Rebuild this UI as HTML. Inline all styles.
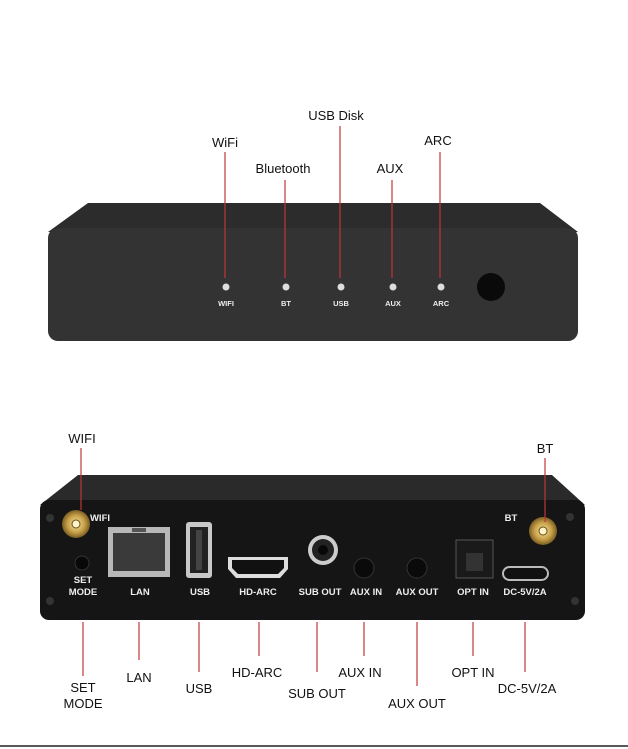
<!DOCTYPE html>
<html><head><meta charset="utf-8"><style>
html,body{margin:0;padding:0;background:#fff}
svg{display:block}
text{font-family:"Liberation Sans",sans-serif}
</style></head><body>
<svg width="628" height="749" viewBox="0 0 628 749" xmlns="http://www.w3.org/2000/svg">
<defs>
<radialGradient id="gold" cx="50%" cy="50%" r="50%"><stop offset="0" stop-color="#f6e3a0"/><stop offset="0.6" stop-color="#c9a24a"/><stop offset="1" stop-color="#7a5d22"/></radialGradient>
</defs>
<!-- TOP DEVICE -->
<path d="M88,203 L540,203 L578,232 L48,232 Z" fill="#2c2c2c"/>
<rect x="48" y="228" width="530" height="113" rx="10" fill="#333"/>
<g stroke="#c0353a" stroke-width="1.2">
<line x1="225" y1="152" x2="225" y2="278"/><line x1="285" y1="180" x2="285" y2="278"/>
<line x1="340" y1="126" x2="340" y2="278"/><line x1="392" y1="180" x2="392" y2="278"/>
<line x1="440" y1="152" x2="440" y2="278"/></g>
<g fill="#ddd"><circle cx="226" cy="287" r="3.5"/><circle cx="286" cy="287" r="3.5"/><circle cx="341" cy="287" r="3.5"/><circle cx="393" cy="287" r="3.5"/><circle cx="441" cy="287" r="3.5"/></g>
<g fill="#eee" font-size="7.5" font-weight="bold" text-anchor="middle">
<text x="226" y="306">WIFI</text><text x="286" y="306">BT</text><text x="341" y="306">USB</text><text x="393" y="306">AUX</text><text x="441" y="306">ARC</text></g>
<circle cx="491" cy="287" r="14" fill="#0a0a0a"/>
<g fill="#111" font-size="13" text-anchor="middle">
<text x="225" y="147">WiFi</text><text x="283" y="173">Bluetooth</text><text x="336" y="120">USB Disk</text><text x="390" y="173">AUX</text><text x="438" y="145">ARC</text></g>

<!-- BOTTOM DEVICE -->
<path d="M78,475 L552,475 L585,505 L40,505 Z" fill="#2a2a2a"/>
<rect x="40" y="500" width="545" height="120" rx="9" fill="#151515"/>
<g fill="#333"><circle cx="50" cy="518" r="4"/><circle cx="50" cy="601" r="4"/><circle cx="575" cy="601" r="4"/><circle cx="570" cy="517" r="4"/></g>
<!-- antennas -->
<circle cx="76" cy="524" r="14" fill="url(#gold)"/><circle cx="76" cy="524" r="4" fill="#fff3c8" stroke="#6b4e1a"/>
<circle cx="543" cy="531" r="14" fill="url(#gold)"/><circle cx="543" cy="531" r="4" fill="#fff3c8" stroke="#6b4e1a"/>
<circle cx="82" cy="563" r="7" fill="#080808" stroke="#333"/>
<!-- LAN -->
<rect x="108" y="527" width="62" height="50" fill="#b8b8b8"/><rect x="113" y="533" width="52" height="38" fill="#3a3a3a"/><rect x="132" y="528" width="14" height="4" fill="#555"/>
<!-- USB -->
<rect x="186" y="522" width="26" height="56" rx="3" fill="#c8c8c8"/><rect x="190" y="527" width="18" height="46" fill="#222"/><rect x="196" y="530" width="6" height="40" fill="#444"/>
<!-- HDMI -->
<path d="M228,557 L288,557 L288,569 L280,578 L236,578 L228,569 Z" fill="#ddd"/><path d="M232,560 L284,560 L284,568 L278,574 L238,574 L232,568 Z" fill="#111"/>
<!-- SUB OUT -->
<circle cx="323" cy="550" r="15" fill="#ccc"/><circle cx="323" cy="550" r="11" fill="#222"/><circle cx="323" cy="550" r="5" fill="#080808"/>
<circle cx="364" cy="568" r="10" fill="#0a0a0a" stroke="#333"/><circle cx="417" cy="568" r="10" fill="#0a0a0a" stroke="#333"/>
<!-- OPT -->
<rect x="456" y="540" width="37" height="38" fill="#1a1a1a" stroke="#555"/><rect x="466" y="553" width="17" height="18" fill="#333"/>
<!-- USB-C -->
<rect x="503" y="567" width="45" height="13" rx="6.5" fill="#111" stroke="#bbb" stroke-width="2"/>
<g fill="#eee" font-size="9.5" font-weight="bold" text-anchor="middle">
<text x="100" y="521">WIFI</text><text x="511" y="521">BT</text>
<text x="83" y="583">SET</text><text x="83" y="595">MODE</text>
<text x="140" y="595">LAN</text><text x="200" y="595">USB</text><text x="258" y="595">HD-ARC</text>
<text x="320" y="595">SUB OUT</text><text x="366" y="595">AUX IN</text><text x="417" y="595">AUX OUT</text>
<text x="473" y="595">OPT IN</text><text x="525" y="595">DC-5V/2A</text></g>
<g stroke="#c0353a" stroke-width="1.2">
<line x1="81" y1="448" x2="81" y2="510"/><line x1="545" y1="458" x2="545" y2="522"/>
<line x1="83" y1="622" x2="83" y2="676"/><line x1="139" y1="622" x2="139" y2="660"/>
<line x1="199" y1="622" x2="199" y2="672"/><line x1="259" y1="622" x2="259" y2="656"/>
<line x1="317" y1="622" x2="317" y2="672"/><line x1="364" y1="622" x2="364" y2="656"/>
<line x1="417" y1="622" x2="417" y2="686"/><line x1="473" y1="622" x2="473" y2="656"/>
<line x1="525" y1="622" x2="525" y2="672"/></g>
<g fill="#111" font-size="13" text-anchor="middle">
<text x="82" y="443">WIFI</text><text x="545" y="453">BT</text>
<text x="83" y="692">SET</text><text x="83" y="708">MODE</text>
<text x="139" y="682">LAN</text><text x="199" y="693">USB</text><text x="257" y="677">HD-ARC</text>
<text x="317" y="698">SUB OUT</text><text x="360" y="677">AUX IN</text><text x="417" y="708">AUX OUT</text>
<text x="473" y="677">OPT IN</text><text x="527" y="693">DC-5V/2A</text></g>
<line x1="0" y1="746" x2="628" y2="746" stroke="#222" stroke-width="1.5"/>
</svg>
</body></html>
